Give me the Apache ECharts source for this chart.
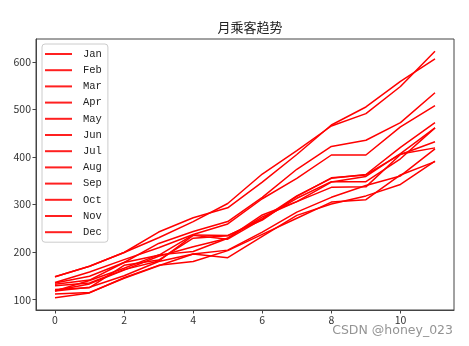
<!DOCTYPE html>
<html>
<head>
<meta charset="utf-8">
<script src="https://cdn.jsdelivr.net/npm/echarts@6/dist/echarts.min.js"></script>
<style>
html,body{margin:0;padding:0;background:#fff;}
#chart{width:469px;height:346px;}
</style>
</head>
<body>
<div id="chart"></div>
<script>
// Monthly passengers (thousands), one series per month, year index 0..11
const months = ['Jan','Feb','Mar','Apr','May','Jun','Jul','Aug','Sep','Oct','Nov','Dec'];
const yearIndex = [0,1,2,3,4,5,6,7,8,9,10,11];
const jan = [112,115,145,171,196,204,242,284,315,340,360,417];
const feb = [118,126,150,180,196,188,233,277,301,318,342,391];
const mar = [132,141,178,193,236,235,267,317,356,362,406,419];
const apr = [129,135,163,181,235,227,269,313,348,348,396,461];
const may = [121,125,172,183,229,234,270,318,355,363,420,472];
const jun = [135,149,178,218,243,264,315,374,422,435,472,535];
const jul = [148,170,199,230,264,302,364,413,465,491,548,622];
const aug = [148,170,199,242,272,293,347,405,467,505,559,606];
const sep = [136,158,184,209,237,259,312,355,404,404,463,508];
const oct = [119,133,162,191,211,229,274,306,347,359,407,461];
const nov = [104,114,146,172,180,203,237,271,305,310,362,390];
const dec = [118,140,166,194,201,229,278,306,336,337,405,432];
const monthValues = [jan,feb,mar,apr,may,jun,jul,aug,sep,oct,nov,dec];
const xTicks = [0,2,4,6,8,10];
const yTicks = [100,200,300,400,500,600];

const chart = echarts.init(document.getElementById('chart'), null, {renderer:'canvas'});
const axisColor = '#333';
const font = '"Noto Sans CJK SC", "DejaVu Sans", sans-serif';
const monoFont = '"Liberation Mono", "DejaVu Sans Mono", monospace';

chart.setOption({
  animation: false,
  backgroundColor: '#fff',
  title: {
    text: '月乘客趋势',
    left: 245, top: 16, textAlign: 'center',
    textStyle: {fontSize: 13, fontWeight: 'normal', color: '#222', fontFamily: font}
  },
  grid: {left: 36, right: 15, top: 39, bottom: 36, show: true, borderColor: '#444', borderWidth: 1},
  legend: {
    orient: 'vertical', left: 42, top: 44,
    data: months,
    icon: 'rect', itemWidth: 27, itemHeight: 2, itemGap: 4.2,
    padding: [4, 6, 4, 3],
    backgroundColor: '#fff', borderColor: '#ccc', borderWidth: 1, borderRadius: 3,
    textStyle: {fontSize: 10.5, color: '#222', fontFamily: monoFont, padding: [0,0,0,6], lineHeight: 12},
    selectedMode: false
  },
  xAxis: {
    type: 'value', min: -0.55, max: 11.55,
    splitLine: {show: false},
    axisLine: {show: true, onZero: false, lineStyle: {color: '#444'}},
    axisTick: {show: true, length: 3.5, customValues: xTicks, lineStyle: {color: '#444'}},
    axisLabel: {customValues: xTicks, color: axisColor, fontSize: 10.5, fontFamily: font, margin: 5}
  },
  yAxis: {
    type: 'value', min: 78.1, max: 647.9,
    splitLine: {show: false},
    axisLine: {show: true, onZero: false, lineStyle: {color: '#444'}},
    axisTick: {show: true, length: 3.5, customValues: yTicks, lineStyle: {color: '#444'}},
    axisLabel: {customValues: yTicks, color: axisColor, fontSize: 10.5, fontFamily: font, margin: 5}
  },
  graphic: [{
    type: 'text', right: 16, bottom: 9,
    style: {text: 'CSDN @honey_023', fill: 'rgba(120,120,120,0.8)', fontSize: 12.5, fontFamily: '"DejaVu Sans", sans-serif'}
  }],
  series: months.map((m, i) => ({
    name: m, type: 'line',
    data: yearIndex.map((x, j) => [x, monthValues[i][j]]),
    showSymbol: false, symbol: 'none',
    lineStyle: {color: '#ff0000', width: 1.5},
    itemStyle: {color: '#ff2020'}
  }))
});
</script>
</body>
</html>
